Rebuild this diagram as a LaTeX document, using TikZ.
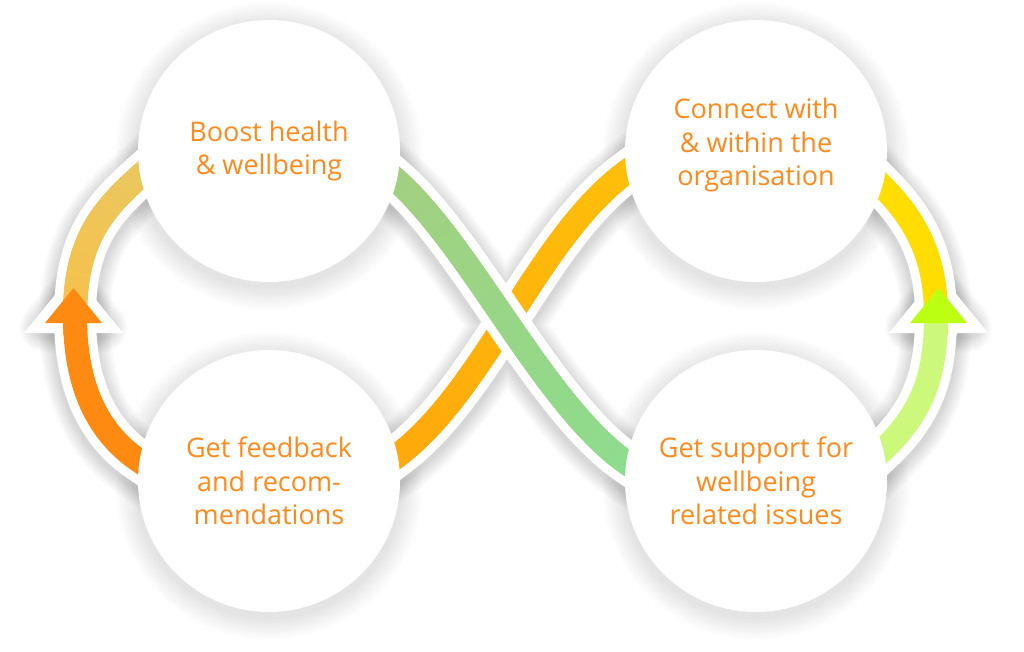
\documentclass[tikz,border=0pt]{standalone}
\usepackage{fontspec}
\setmainfont{Open Sans}
\usetikzlibrary{decorations.markings}
\definecolor{txtor}{HTML}{FF8A1C}
\definecolor{luA}{HTML}{F8C04A}
\definecolor{luB}{HTML}{E8C962}
\definecolor{llor}{HTML}{FF8A12}
\definecolor{grA}{HTML}{A4CF7F}
\definecolor{grB}{HTML}{8CDD8F}
\definecolor{orA}{HTML}{FFA70B}
\definecolor{orB}{HTML}{FFC10A}
\definecolor{ryel}{HTML}{FFDD00}
\definecolor{rlim}{HTML}{CCF97B}
\definecolor{rarr}{HTML}{BBFF12}
\tikzset{
  pathLU/.style={insert path={(75,334) -- (75,316) .. controls (75,240) and (103,209.5) .. (140,176) -- (166,152.5)}},
  pathLL/.style={insert path={(75,316) .. controls (75,385) and (97,431.5) .. (138,460) -- (167,480)}},
  pathRU/.style={insert path={(936,334) -- (936,316) .. controls (936,260) and (918,222) .. (882,186) -- (857.5,161)}},
  pathRL/.style={insert path={(936,316) .. controls (936,374) and (923,412) .. (883,450) -- (858,474)}},
  pathGR/.style={insert path={(370,157) -- (396,180) .. controls (471,246) and (545,406) .. (627,463) -- (656,483)}},
  pathOR/.style={insert path={(369,477) -- (397,456) .. controls (485,390) and (537,239) .. (625,173) -- (653,152)}},
  triL/.style={insert path={(45,323) -- (102,323) -- (73.5,288) -- cycle}},
  triR/.style={insert path={(910,323) -- (967,323) -- (938.5,288) -- cycle}},
  outline/.style={draw=white, line width=42},
  triout/.style={draw=white, fill=white, line width=20, line join=miter},
  band/.style={draw=#1, line width=24},
  gband/.style 2 args={draw=#1, line width=24, postaction={decorate, decoration={markings,
     mark=between positions 0 and 1 step 1.5pt with {%
       \pgfmathsetmacro\frc{\pgfkeysvalueof{/pgf/decoration/mark info/distance from start}/\pgfdecoratedpathlength}%
       \pgfmathtruncatemacro\pc{100*\frc}%
       \fill[#2!\pc!#1] (-1.3pt,-12pt) rectangle (1.3pt,12pt);}}}},
  circ/.style={circle, fill=white, minimum size=262, inner sep=0},
  lbl/.style={align=center, text=txtor, inner sep=0, font=\fontsize{27}{33.5}\selectfont},
}
\begin{document}
\begin{tikzpicture}[x=1pt,y=-1pt]
\useasboundingbox (0,0) rectangle (1024,652);
\fill[white] (0,0) rectangle (1024,652);
% soft shadows
\foreach \k [evaluate=\k as \lw using 42+3*\k, evaluate=\k as \tw using 20+3*\k] in {1,...,10} {
  \draw[black, opacity=0.014, line width=\lw, shift={(0,4)}, line join=round] [pathLU, pathLL, pathRU, pathRL, pathGR, pathOR];
  \draw[black, opacity=0.014, line width=\tw, shift={(0,4)}, line join=round] [triL, triR];
}
\foreach \k [evaluate=\k as \rr using 131+2.5*\k] in {1,...,9} {
  \fill[black, opacity=0.012] (269,156) circle[radius=\rr] (756,156) circle[radius=\rr]
     (269,486) circle[radius=\rr] (756,486) circle[radius=\rr];
}
% white outlines
\path[outline, pathLU, pathLL, pathRU, pathRL, pathOR];
\path[triout, triL];
\path[triout, triR];
% coloured bands
\path[pathLU, gband={luA}{luB}];
\path[pathLL, band=llor];
\path[pathRU, band=ryel];
\path[pathRL, band=rlim];
\path[pathOR, gband={orA}{orB}];
\path[outline, pathGR];
\path[pathGR, gband={grA}{grB}];
% arrow heads
\fill[llor, triL];
\fill[rarr, triR];
% circles
\node[circ] (tl) at (269,151) {};
\node[circ] (tr) at (756,151) {};
\node[circ] (bl) at (269,481) {};
\node[circ] (br) at (756,481) {};
% texts
\node[lbl] (tlt) at (269,151) {Boost health\\\& wellbeing};
\node[lbl] (trt) at (756,145) {Connect with\\\& within the\\organisation};
\node[lbl] (blt) at (269,481) {Get feedback\\and recom-\\mendations};
\node[lbl] (brt) at (756,481) {Get support for\\wellbeing\\related issues};
\end{tikzpicture}
\end{document}
